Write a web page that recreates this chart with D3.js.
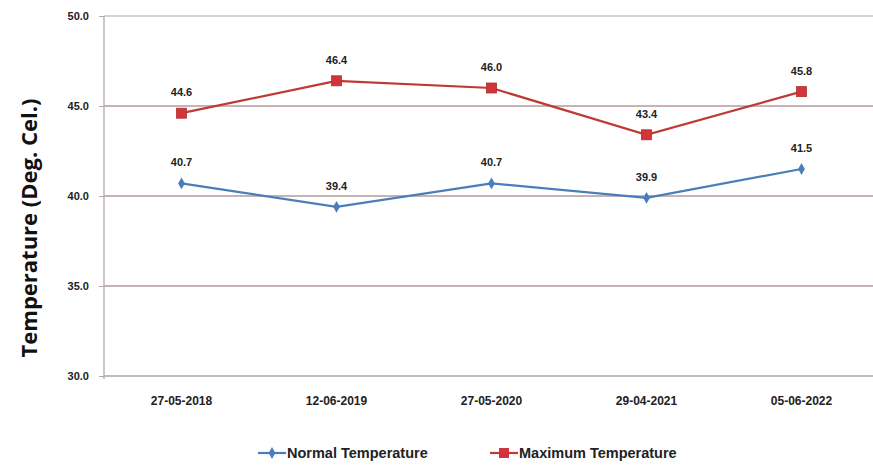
<!DOCTYPE html>
<html>
<head>
<meta charset="utf-8">
<script src="https://cdn.jsdelivr.net/npm/d3@7"></script>
<style>
  body { margin: 0; background: #fff; }
  svg { display: block; font-family: "Liberation Sans", Arial, sans-serif; }
</style>
</head>
<body>
<svg id="chart" width="873" height="465"></svg>
<script>
// chart data
var dates = ["27-05-2018", "12-06-2019", "27-05-2020", "29-04-2021", "05-06-2022"];
var normalTemp = [40.7, 39.4, 40.7, 39.9, 41.5];
var maxTemp = [44.6, 46.4, 46.0, 43.4, 45.8];
var yTicks = [30, 35, 40, 45, 50];

var svg = d3.select("#chart");

var xScale = d3.scaleBand()
    .domain(dates)
    .range([104, 879]);

var yScale = d3.scaleLinear()
    .domain([30, 50])
    .range([376, 16]);

// horizontal gridlines
svg.append("g")
    .selectAll("line")
    .data(yTicks)
    .join("line")
    .attr("x1", 104)
    .attr("x2", 873)
    .attr("y1", d => yScale(d))
    .attr("y2", d => yScale(d))
    .attr("stroke", d => d === 50 ? "#c8c4c4" : (d === 30 ? "#c4bcbc" : "#b49a9e"))
    .attr("stroke-width", d => d === 30 ? 2 : 1.3);

// left axis
var axisLeft = d3.axisLeft(yScale)
    .tickValues(yTicks)
    .tickSize(5)
    .tickFormat(d3.format(".1f"));

var gy = svg.append("g")
    .attr("class", "axis axis-left")
    .attr("transform", "translate(104, 0)")
    .call(axisLeft);

gy.select(".domain").attr("stroke", "#b0aaaa").attr("stroke-width", 1.3)
    .attr("d", "M0," + (yScale(50)) + "V" + (yScale(30) + 3));
gy.selectAll(".tick line").attr("stroke", "#b0aaaa");
gy.selectAll(".tick text")
    .attr("x", -15)
    .attr("fill", "#222")
    .style("font-size", "11px")
    .style("font-weight", "bold");

// bottom axis labels
svg.append("g")
    .selectAll("text")
    .data(dates)
    .join("text")
    .attr("x", d => xScale(d) + xScale.bandwidth() / 2)
    .attr("y", 405)
    .attr("text-anchor", "middle")
    .attr("fill", "#222")
    .style("font-size", "12px")
    .style("font-weight", "bold")
    .text(d => d);

// y title
svg.append("text")
    .attr("transform", "translate(37, 228) rotate(-90)")
    .attr("text-anchor", "middle")
    .attr("fill", "#111")
    .style("font-family", "'Open Sans', sans-serif")
    .style("font-size", "22px")
    .style("font-weight", "bold")
    .text("Temperature (Deg. Cel.)");

var cx = d => xScale(d) + xScale.bandwidth() / 2;

var line = d3.line()
    .x((d, i) => cx(dates[i]))
    .y(d => yScale(d));

var series = [
    { name: "Normal Temperature", values: normalTemp, color: "#4a7ebb", marker: "diamond" },
    { name: "Maximum Temperature", values: maxTemp, color: "#be3a34", marker: "square" }
];

var diamond = d3.symbol().type(d3.symbolDiamond).size(40);

series.forEach(function (s) {
    var g = svg.append("g");
    g.append("path")
        .datum(s.values)
        .attr("d", line)
        .attr("fill", "none")
        .attr("stroke", s.color)
        .attr("stroke-width", 2.2);

    if (s.marker === "square") {
        g.selectAll("rect")
            .data(s.values)
            .join("rect")
            .attr("x", (d, i) => cx(dates[i]) - 5)
            .attr("y", d => yScale(d) - 5)
            .attr("width", 10)
            .attr("height", 10)
            .attr("fill", "#d1343a")
            .attr("stroke", "#b03030")
            .attr("stroke-width", 0.8);
    } else {
        g.selectAll(".mk")
            .data(s.values)
            .join("path")
            .attr("class", "mk")
            .attr("transform", (d, i) => `translate(${cx(dates[i])}, ${yScale(d)})`)
            .attr("d", diamond)
            .attr("fill", s.color);
    }

    g.selectAll(".lbl")
        .data(s.values)
        .join("text")
        .attr("class", "lbl")
        .attr("x", (d, i) => cx(dates[i]))
        .attr("y", d => yScale(d) - 17)
        .attr("text-anchor", "middle")
        .attr("fill", "#222")
        .style("font-size", "11px")
        .style("font-weight", "bold")
        .text(d => d3.format(".1f")(d));
});

// legend
var legendX = [258, 490];
series.forEach(function (s, i) {
    var lg = svg.append("g").attr("transform", `translate(${legendX[i]}, 453)`);
    lg.append("line")
        .attr("x1", 0).attr("x2", 28)
        .attr("stroke", s.color).attr("stroke-width", 2.2);
    if (s.marker === "square") {
        lg.append("rect").attr("x", 9).attr("y", -5).attr("width", 10).attr("height", 10)
            .attr("fill", "#d1343a");
    } else {
        lg.append("path").attr("transform", "translate(14,0)").attr("d", diamond).attr("fill", s.color);
    }
    lg.append("text")
        .attr("x", 29)
        .attr("y", 5)
        .attr("fill", "#222")
        .style("font-size", "14.5px")
        .style("font-weight", "bold")
        .text(s.name);
});
</script>
</body>
</html>
